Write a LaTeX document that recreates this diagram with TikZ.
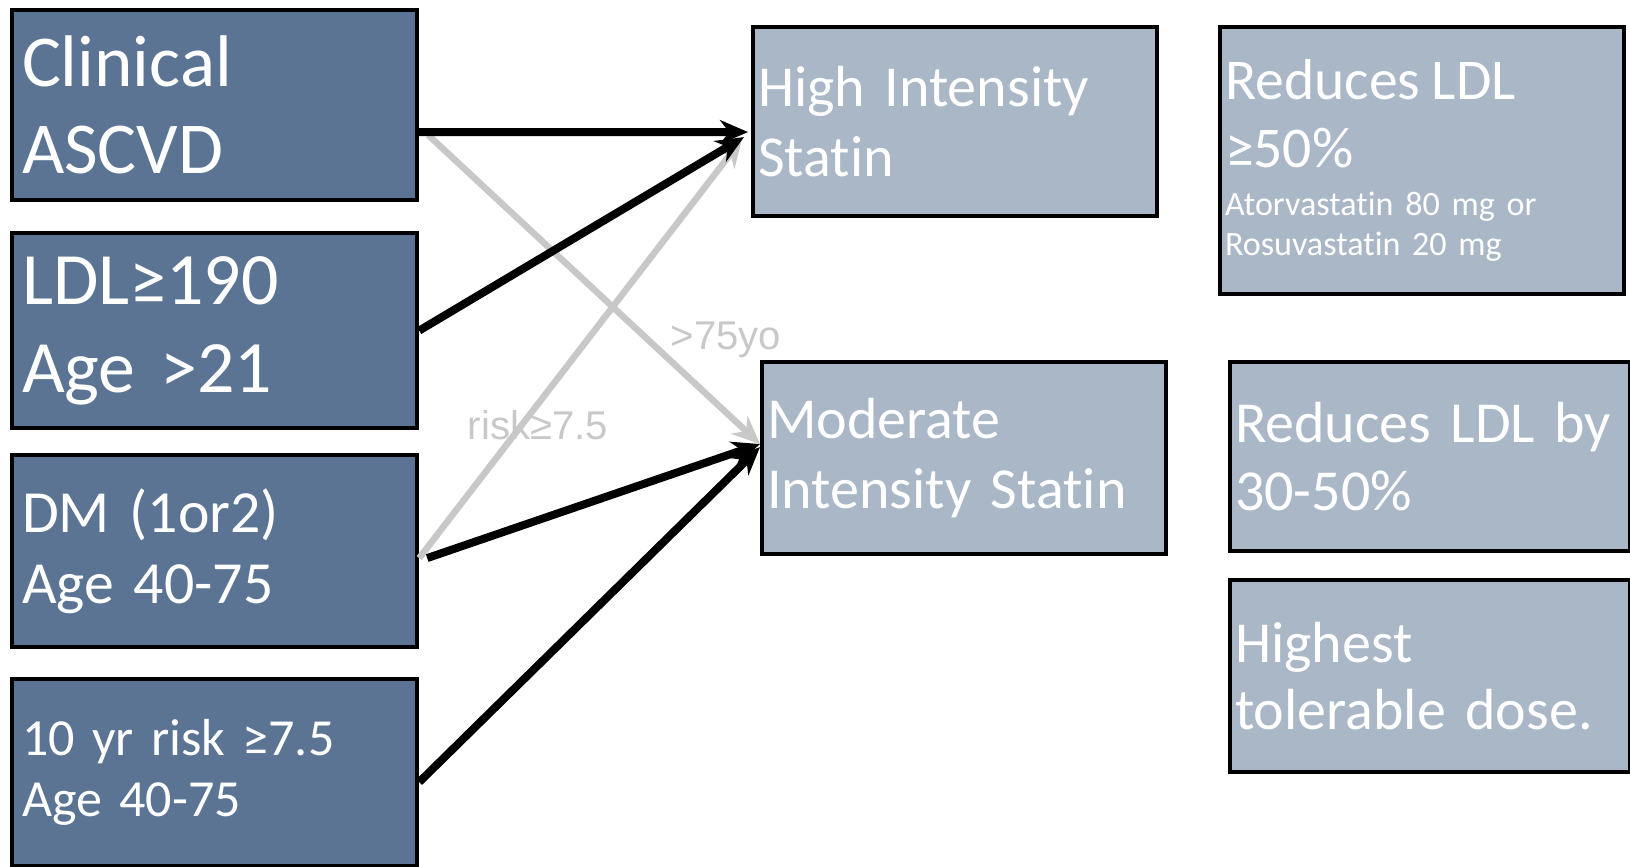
\documentclass[tikz,border=0pt]{standalone}
\usepackage{fontspec}
\setmainfont[Ligatures=NoCommon]{Carlito}
\newfontfamily\labelfont{Liberation Sans}
\usetikzlibrary{arrows.meta}
\definecolor{darkslate}{RGB}{91,116,148}
\definecolor{lightslate}{RGB}{169,183,198}
\definecolor{softgray}{RGB}{200,200,200}

\begin{document}
\begin{tikzpicture}[x=0.01cm, y=-0.01cm]
				\tikzset{
					risk-box/.style={draw, line width=0.04cm, fill=darkslate, text=white, anchor=north west, inner xsep=0.1cm, inner ysep=0pt, align=left, text width=3.85cm, minimum height=1.9cm},
					statin-box/.style={draw, line width=0.04cm, fill=lightslate, text=white, anchor=north west, inner xsep=0.05cm, inner ysep=0pt, align=left, text width=3.94cm, minimum height=1.9cm},
					strong-arrow/.style={-{Stealth[length=0.28cm, width=0.24cm]}, line width=0.08cm, black},
					weak-arrow/.style={-{Stealth[length=0.28cm, width=0.24cm]}, line width=0.065cm, softgray},
					edge-text/.style={text=softgray, font=\labelfont\fontsize{11.4}{13}\selectfont}
				}
				\useasboundingbox (0, 0) rectangle (1630, 866);

				% who gets a statin
				\node[risk-box, font=\fontsize{20.8}{24.8}\selectfont] at (10, 8) (clinical-ascvd) {Clinical\\ASCVD};
				\node[risk-box, minimum height=1.95cm, font=\fontsize{21}{25}\selectfont] at (10, 231) (ldl-190) {LDL≥190\\Age >21};
				\node[risk-box, minimum height=1.92cm, font=\fontsize{17}{20.2}\selectfont] at (10, 453) (diabetes) {DM (1or2)\\Age 40-75};
				\node[risk-box, minimum height=1.87cm, font=\fontsize{14.8}{17.4}\selectfont] at (10, 677) (ten-year-risk) {10 yr risk ≥7.5\\Age 40-75};

				% which statin
				\node[statin-box, minimum height=1.89cm, font=\fontsize{16.5}{19.9}\selectfont] at (751, 25) (high-intensity) {High Intensity\\Statin};
				\node[statin-box, minimum height=1.92cm, font=\fontsize{16.5}{19.9}\selectfont] at (760, 360) (moderate-intensity) {Moderate\\Intensity Statin};

				% what it does
				\node[statin-box, minimum height=2.67cm] at (1218, 25) (reduces-fifty) {{\fontsize{16.4}{19.3}\selectfont Reduces LDL\\≥50\%\par}\vspace{2.2pt}{\fontsize{9.7}{11.4}\selectfont Atorvastatin 80 mg or\\Rosuvastatin 20 mg\par}};
				\node[statin-box, text width=3.9cm, minimum height=1.89cm, font=\fontsize{16.5}{19.2}\selectfont] at (1228, 360) (reduces-thirty) {Reduces LDL by\\30-50\%};
				\node[statin-box, text width=3.9cm, minimum height=1.92cm, font=\fontsize{16.5}{19.2}\selectfont] at (1228, 578) (highest-dose) {Highest\\tolerable dose.};

				\node[edge-text] at (726, 340) (over-75-text) {>75yo};
				\node[edge-text] at (538, 425) (risk-text) {risk≥7.5};

				\draw[weak-arrow] ([xshift=0.09cm, yshift=-0.30cm]clinical-ascvd.east) -- ([yshift=0.14cm]moderate-intensity.west);
				\draw[weak-arrow] ([yshift=-0.07cm]diabetes.east) -- ([xshift=-0.09cm, yshift=-0.175cm]high-intensity.west);

				\draw[strong-arrow] ([yshift=-0.27cm]clinical-ascvd.east) -- ([xshift=-0.03cm, yshift=-0.105cm]high-intensity.west);
				\draw[strong-arrow] (ldl-190.east) -- ([xshift=-0.07cm, yshift=-0.155cm]high-intensity.west);
				\draw[strong-arrow] ([xshift=0.08cm, yshift=-0.07cm]diabetes.east) -- ([yshift=0.14cm]moderate-intensity.west);
				\draw[strong-arrow] ([yshift=-0.095cm]ten-year-risk.east) -- ([yshift=0.11cm]moderate-intensity.west);
\end{tikzpicture}
\end{document}
